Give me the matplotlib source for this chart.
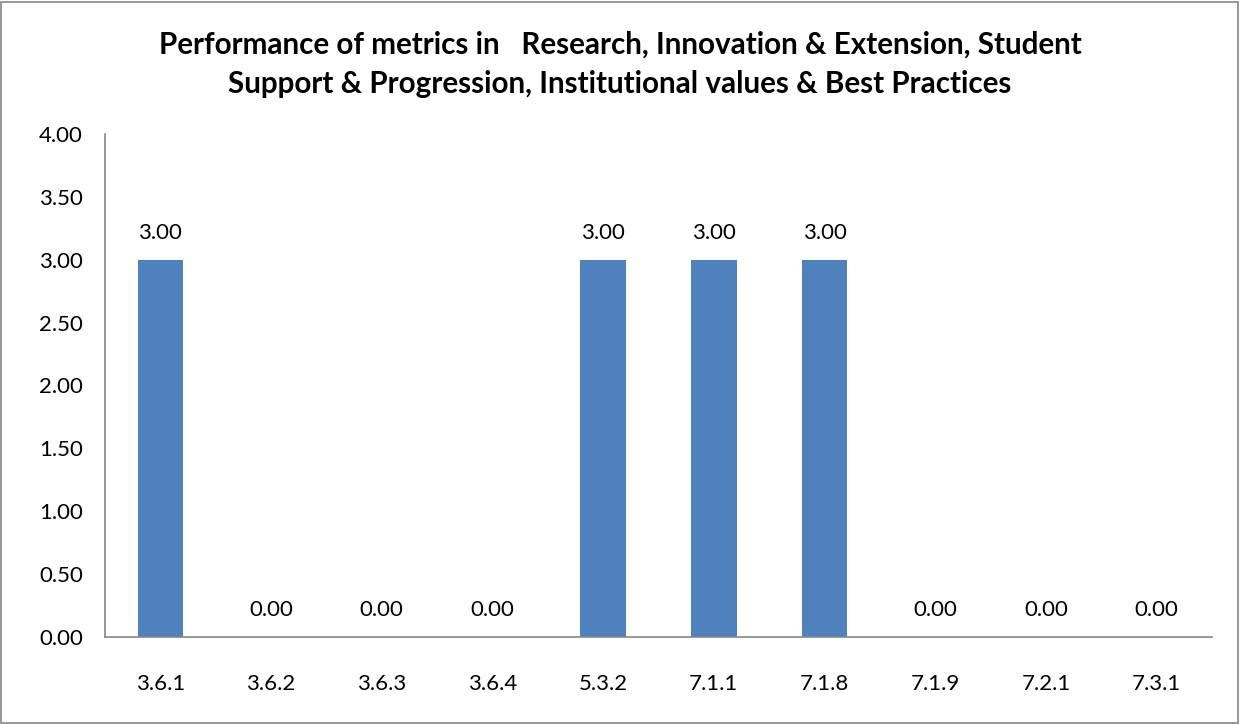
import matplotlib
matplotlib.use("Agg")
import matplotlib.pyplot as plt
from matplotlib.patches import Rectangle

categories = ["3.6.1", "3.6.2", "3.6.3", "3.6.4", "5.3.2",
              "7.1.1", "7.1.8", "7.1.9", "7.2.1", "7.3.1"]
scores = [3.00, 0.00, 0.00, 0.00, 3.00, 3.00, 3.00, 0.00, 0.00, 0.00]
yticks = [0.0, 0.5, 1.0, 1.5, 2.0, 2.5, 3.0, 3.5, 4.0]

plt.rcParams['font.family'] = ['Lato', 'DejaVu Sans']

W, H = 1240, 724
fig = plt.figure(figsize=(W / 100, H / 100), dpi=100, facecolor='white')

# outer chart border
fig.patches.append(Rectangle((1 / W, 1 / H), (W - 3) / W, (H - 3) / H,
                             transform=fig.transFigure, fill=False,
                             edgecolor='#868686', linewidth=1.2))

ax = fig.add_axes([105 / W, 1 - 637 / H, (1212 - 105) / W, (637 - 134) / H])
x = range(len(categories))
ax.bar(x, scores, width=0.41, color='#4F81BD')
ax.set_xlim(-0.5, len(categories) - 0.5)
ax.set_ylim(0, 4)
ax.set_yticks(yticks)
ax.set_yticklabels([f"{v:.2f}" for v in yticks], fontsize=16)
ax.set_xticks(list(x))
ax.set_xticklabels(categories, fontsize=16)
ax.tick_params(axis='both', length=0)
ax.tick_params(axis='x', pad=27)
ax.tick_params(axis='y', pad=16)
for s in ['top', 'right']:
    ax.spines[s].set_visible(False)
for s in ['left', 'bottom']:
    ax.spines[s].set_color('#868686')
    ax.spines[s].set_linewidth(1.2)

for i, v in enumerate(scores):
    ax.annotate(f"{v:.2f}", (i, v), xytext=(0, 12), textcoords='offset points',
                ha='center', va='bottom', fontsize=16)

fig.text(0.5, 1 - 45 / H,
         "Performance of metrics in   Research, Innovation & Extension, Student",
         ha='center', va='center', fontsize=21.3, fontweight='bold')
fig.text(0.5, 1 - 84 / H,
         "Support & Progression, Institutional values & Best Practices",
         ha='center', va='center', fontsize=21.3, fontweight='bold')

fig.savefig("out.png", dpi=100)
